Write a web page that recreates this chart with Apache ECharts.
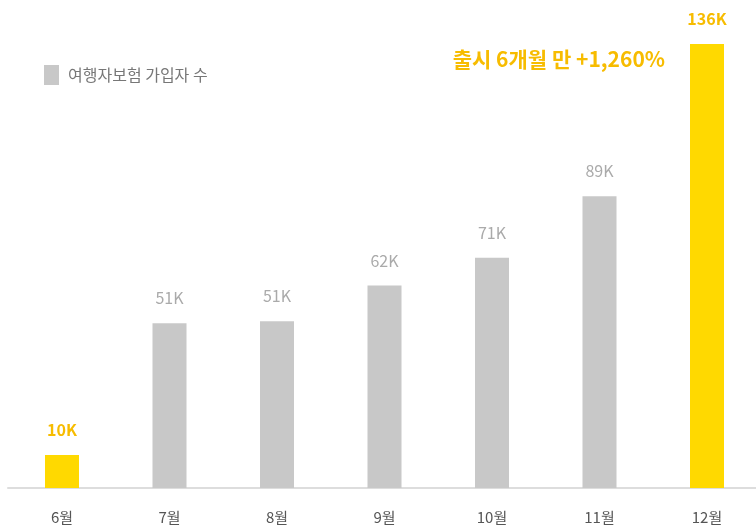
<!DOCTYPE html>
<html>
<head>
<meta charset="utf-8">
<script src="https://cdn.jsdelivr.net/npm/echarts@6/dist/echarts.min.js"></script>
<style>
  html, body { margin: 0; padding: 0; background: #fff; }
  #chart { width: 756px; height: 526px; }
</style>
</head>
<body>
<div id="chart"></div>
<script>
// 월별 여행자보험 가입자 수 (단위: 천 명)
var months = ["6월", "7월", "8월", "9월", "10월", "11월", "12월"];
var subscribers = [10.1, 50.5, 51.1, 62, 70.5, 89.4, 136];
var valueLabels = ["10K", "51K", "51K", "62K", "71K", "89K", "136K"];
var highlight = [true, false, false, false, false, false, true];

var FONT = "'Noto Sans CJK KR', 'Noto Sans', sans-serif";
var GRAY = "#c8c8c8";
var YELLOW = "#ffd900";
var YELLOW_TEXT = "#f7bc00";

var chart = echarts.init(document.getElementById("chart"));

var barData = subscribers.map(function(v, i) {
	var hi = highlight[i];
	return {
		value: v,
		itemStyle: { color: hi ? YELLOW : GRAY },
		label: {
			color: hi ? YELLOW_TEXT : "#aaaaaa",
			fontWeight: hi ? "bold" : "normal"
		}
	};
});

chart.setOption({
	animation: false,
	textStyle: { fontFamily: FONT },
	// 막대용 grid / 바닥선용 grid
	grid: [
		{ left: 62, right: 49, top: 44, bottom: 38 },
		{ left: 8, right: 0, top: 44, bottom: 38 }
	],
	legend: {
		left: 39,
		top: 60,
		itemWidth: 15,
		itemHeight: 20,
		itemGap: 10,
		icon: "rect",
		textStyle: { fontSize: 16, color: "#777", fontFamily: FONT, padding: [0, 0, 0, 4] },
		data: ["여행자보험 가입자 수"]
	},
	xAxis: [{
		type: "category",
		gridIndex: 0,
		data: months,
		boundaryGap: false,
		axisLine: { show: false },
		axisTick: { show: false },
		axisLabel: { color: "#555", fontSize: 15, margin: 22, fontFamily: FONT }
	}, {
		type: "value",
		gridIndex: 1,
		axisLine: { show: true, lineStyle: { color: "#dddddd", width: 2 } },
		axisTick: { show: false },
		axisLabel: { show: false },
		splitLine: { show: false }
	}],
	yAxis: [{
		type: "value",
		gridIndex: 0,
		min: 0,
		max: 136,
		show: false,
		splitLine: { show: false }
	}, {
		type: "value",
		gridIndex: 1,
		show: false,
		splitLine: { show: false }
	}],
	series: [{
		name: "여행자보험 가입자 수",
		type: "bar",
		barWidth: 34,
		itemStyle: { color: GRAY },
		data: barData,
		label: {
			show: true,
			position: "top",
			distance: 17,
			fontSize: 16,
			fontFamily: FONT,
			formatter: function(p) { return valueLabels[p.dataIndex]; }
		}
	}],
	graphic: [{
		type: "text",
		right: 91,
		top: 49,
		style: {
			text: "출시 6개월 만 +1,260%",
			fill: YELLOW_TEXT,
			font: "bold 21px " + FONT
		}
	}]
});
</script>
</body>
</html>
